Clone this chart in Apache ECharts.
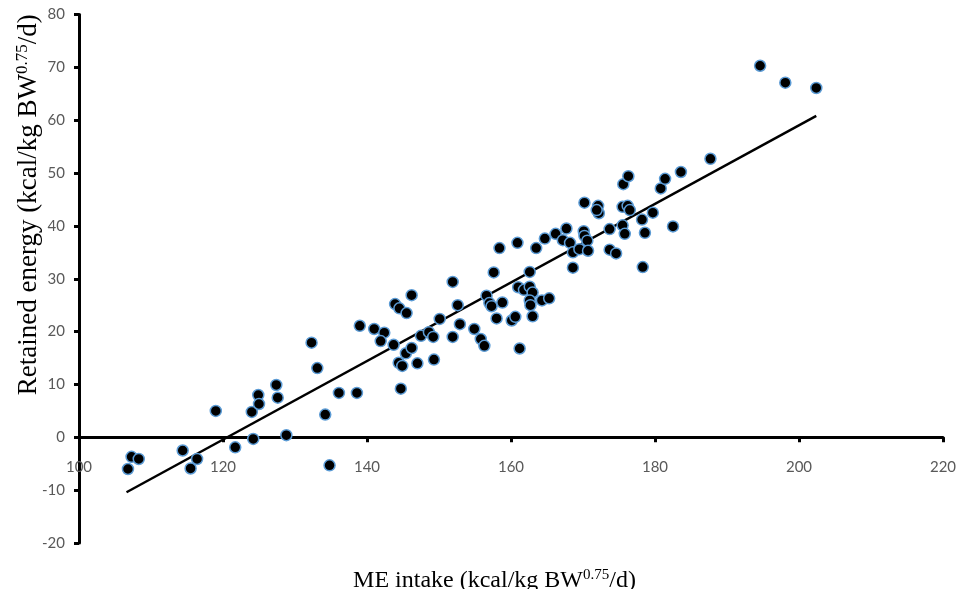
<!DOCTYPE html>
<html>
<head>
<meta charset="utf-8">
<script src="https://cdn.jsdelivr.net/npm/echarts@6/dist/echarts.min.js"></script>
<style>
    html, body { margin: 0; padding: 0; background: #fff; }
    #energyChart { width: 957px; height: 589px; }
</style>
</head>
<body>
<div id="energyChart"></div>
<script>
// ME intake (x) and retained energy (y)
var meIntake = [
    106.8, 107.3, 108.3, 114.4, 115.5, 116.4, 119.0, 121.7, 124.0, 124.9,
    125.0, 124.2, 127.4, 127.6, 128.8, 132.3, 133.1, 134.2, 136.1, 134.8,
    138.6, 139.0, 141.0, 142.4, 141.9, 143.7, 143.9, 144.5, 145.5, 146.2,
    144.4, 144.9, 145.4, 146.2, 144.7, 147.0, 147.5, 148.6, 149.2, 149.3,
    150.1, 151.9, 151.9, 152.6, 152.9, 154.9, 155.8, 156.3, 157.6, 156.6,
    157.0, 157.3, 158.8, 158.0, 158.4, 160.1, 160.6, 161.2, 160.9, 161.0,
    161.8, 162.6, 163.0, 162.6, 162.7, 163.0, 164.3, 165.3, 162.6, 163.5,
    164.7, 166.2, 167.2, 167.7, 168.2, 168.6, 168.6, 169.5, 170.1, 170.2,
    170.6, 170.7, 170.2, 172.1, 172.2, 171.9, 173.7, 173.7, 174.6, 175.5,
    175.8, 175.6, 176.3, 175.5, 176.2, 176.5, 178.2, 178.6, 178.3, 179.7,
    180.8, 181.4, 182.5, 183.6, 187.7, 194.6, 198.1, 202.4
];
var retainedEnergy = [
    -6.0, -3.7, -4.1, -2.5, -5.9, -4.1, 5.0, -1.9, 4.8, 8.0,
    6.3, -0.3, 9.9, 7.5, 0.4, 17.9, 13.1, 4.3, 8.4, -5.3,
    8.4, 21.1, 20.5, 19.8, 18.2, 17.5, 25.2, 24.4, 23.5, 26.9,
    14.1, 13.5, 15.9, 16.9, 9.2, 14.0, 19.2, 19.9, 19.0, 14.7,
    22.4, 29.4, 19.0, 25.0, 21.4, 20.5, 18.6, 17.3, 31.2, 26.8,
    25.4, 24.8, 25.5, 22.5, 35.8, 22.1, 22.8, 16.8, 36.8, 28.4,
    27.9, 28.5, 27.4, 25.9, 25.0, 22.9, 25.9, 26.3, 31.3, 35.8,
    37.6, 38.5, 37.3, 39.5, 36.8, 35.0, 32.1, 35.6, 39.0, 38.1,
    37.2, 35.3, 44.4, 43.8, 42.4, 43.0, 39.4, 35.5, 34.8, 40.1,
    38.5, 47.9, 49.4, 43.6, 43.8, 43.0, 41.2, 38.7, 32.2, 42.5,
    47.1, 48.9, 39.9, 50.2, 52.7, 70.3, 67.1, 66.1
];
// ends of the fitted line
var fitX = [106.6, 202.4];
var fitY = [-10.4, 60.8];

var xTicks = { min: 100, max: 220, interval: 20 };
var yTicks = { min: -20, max: 80, interval: 10 };

function pairs(xs, ys) {
    var out = [];
    for (var i = 0; i < xs.length; i++) {
        out.push([xs[i], ys[i]]);
    }
    return out;
}

(function () {
    var titleRich = {
        a: { fontFamily: 'Liberation Serif', fontSize: 24, color: '#000', lineHeight: 26 },
        s: { fontFamily: 'Liberation Serif', fontSize: 15, color: '#000', lineHeight: 15, verticalAlign: 'top' }
    };
    var yRich = {
        a: { fontFamily: 'Liberation Serif', fontSize: 27, color: '#000', lineHeight: 29 },
        s: { fontFamily: 'Liberation Serif', fontSize: 17, color: '#000', lineHeight: 17, verticalAlign: 'top' }
    };
    var tickLabel = { fontFamily: 'Lato', fontSize: 15, color: '#595959' };

    // grid: top 14.5, height 528.5 -> value 0 sits 105.7px above the bottom edge
    var option = {
        animation: false,
        backgroundColor: '#fff',
        grid: { left: 79, right: 14, top: 14.5, bottom: 46, containLabel: false, outerBoundsMode: 'none' },
        xAxis: {
            type: 'value',
            min: xTicks.min, max: xTicks.max, interval: xTicks.interval,
            offset: -105.7,
            name: '{a|ME intake (kcal/kg BW}{s|0.75}{a|/d)}',
            nameLocation: 'middle',
            nameGap: 130,
            nameMoveOverlap: false,
            nameTextStyle: { rich: titleRich, padding: [0, 33, 0, 0] },
            axisLine: { onZero: false, lineStyle: { color: '#000', width: 3 } },
            axisTick: { show: true, length: 5, lineStyle: { color: '#000', width: 3 } },
            axisLabel: Object.assign({ margin: 22 }, tickLabel),
            splitLine: { show: false }
        },
        yAxis: {
            type: 'value',
            min: yTicks.min, max: yTicks.max, interval: yTicks.interval,
            name: '{a|Retained energy (kcal/kg BW}{s|0.75}{a|/d)}',
            nameLocation: 'middle',
            nameRotate: 90,
            nameGap: 36,
            nameMoveOverlap: false,
            nameTextStyle: { rich: yRich, padding: [0, 0, 0, 148] },
            axisLine: { onZero: false, lineStyle: { color: '#000', width: 3 } },
            axisTick: { show: true, length: 5, lineStyle: { color: '#000', width: 3 } },
            axisLabel: Object.assign({ margin: 14 }, tickLabel),
            splitLine: { show: false }
        },
        series: [{
            name: 'fit',
            type: 'line',
            data: pairs(fitX, fitY),
            showSymbol: false,
            symbol: 'none',
            lineStyle: { color: '#000', width: 2.5 },
            z: 2
        }, {
            name: 'observed',
            type: 'scatter',
            data: pairs(meIntake, retainedEnergy),
            symbolSize: 11,
            itemStyle: {
                color: '#000',
                borderColor: '#5b9bd5',
                borderWidth: 1.5,
                opacity: 1
            },
            z: 3
        }]
    };

    var myChart = echarts.init(document.getElementById('energyChart'));
    myChart.setOption(option);
})();
</script>
</body>
</html>
